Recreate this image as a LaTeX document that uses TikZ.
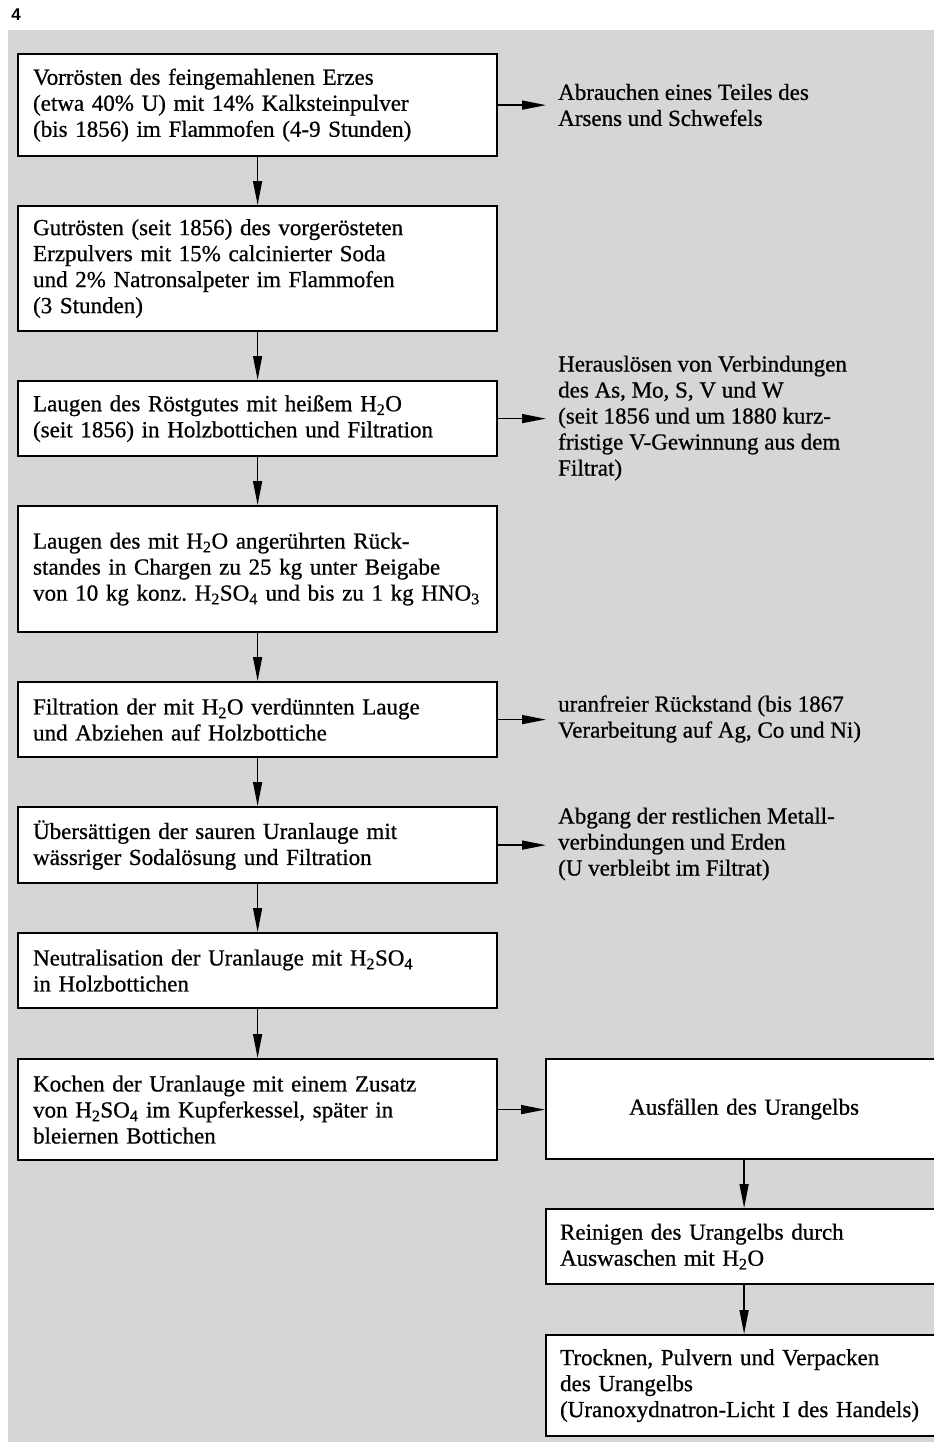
\documentclass[tikz,border=0pt]{standalone}
\usepackage{fontspec}
\setmainfont{Liberation Serif}[FakeBold=0.7]
\setsansfont{Liberation Sans}
\usetikzlibrary{arrows.meta}
\definecolor{bggray}{RGB}{214,214,214}
\frenchspacing
\begin{document}
\begin{tikzpicture}[x=1pt,y=-1pt,
  every node/.style={font=\fontsize{23}{26}\selectfont},
  box/.style={draw=black,line width=2.2pt,fill=white,minimum width=479pt,inner xsep=15pt,text width=449pt,align=left,anchor=north west,inner ysep=0pt},
  rbox/.style={draw=black,line width=2.2pt,fill=white,minimum width=396pt,inner xsep=14pt,text width=368pt,align=left,anchor=north west,inner ysep=0pt},
  side/.style={inner xsep=12pt,inner ysep=0pt,anchor=west,align=left},
  arr/.style={line width=1.5pt,-{Triangle[length=24pt,width=9pt]}}]
\useasboundingbox (0,0) rectangle (934,1444);
\clip (0,0) rectangle (934,1444);
\fill[bggray] (8,30) rectangle (940,1442);
\node[font=\sffamily\bfseries\fontsize{17}{20}\selectfont,anchor=center] (num) at (16,15) {4};
% left column
\node[box,minimum height=102pt] (b1) at (17,53) {Vorrösten des feingemahlenen Erzes\\(etwa 40\% U) mit 14\% Kalksteinpulver\\(bis 1856) im Flammofen (4-9 Stunden)};
\node[box,minimum height=125pt] (b2) at (17,205) {Gutrösten (seit 1856) des vorgerösteten\\Erzpulvers mit 15\% calcinierter Soda\\und 2\% Natronsalpeter im Flammofen\\(3 Stunden)};
\node[box,minimum height=75pt] (b3) at (17,380) {Laugen des Röstgutes mit heißem H\textsubscript{2}O\\(seit 1856) in Holzbottichen und Filtration};
\node[box,minimum height=126pt] (b4) at (17,505) {Laugen des mit H\textsubscript{2}O angerührten Rück-\\standes in Chargen zu 25 kg unter Beigabe\\\mbox{von 10 kg konz. H\textsubscript{2}SO\textsubscript{4} und bis zu 1 kg HNO\textsubscript{3}}};
\node[box,minimum height=75pt] (b5) at (17,681) {Filtration der mit H\textsubscript{2}O verdünnten Lauge\\und Abziehen auf Holzbottiche};
\node[box,minimum height=76pt] (b6) at (17,806) {Übersättigen der sauren Uranlauge mit\\wässriger Sodalösung und Filtration};
\node[box,minimum height=75pt] (b7) at (17,932) {Neutralisation der Uranlauge mit H\textsubscript{2}SO\textsubscript{4}\\in Holzbottichen};
\node[box,minimum height=101pt] (b8) at (17,1058) {Kochen der Uranlauge mit einem Zusatz\\von H\textsubscript{2}SO\textsubscript{4} im Kupferkessel, später in\\bleiernen Bottichen};
% right column boxes
\node[rbox,minimum height=100pt,align=center] (b9) at (545,1058) {Ausfällen des Urangelbs};
\node[rbox,minimum height=75pt] (b10) at (545,1208) {Reinigen des Urangelbs durch\\Auswaschen mit H\textsubscript{2}O};
\node[rbox,minimum height=101pt] (b11) at (545,1334) {Trocknen, Pulvern und Verpacken\\des Urangelbs\\(Uranoxydnatron-Licht I des Handels)};
% side texts
\node[side] (t1) at (546,105) {Abrauchen eines Teiles des\\Arsens und Schwefels};
\node[side] (t3) at (546,418) {Herauslösen von Verbindungen\\des As, Mo, S, V und W\\(seit 1856 und um 1880 kurz-\\fristige V-Gewinnung aus dem\\Filtrat)};
\node[side] (t5) at (546,719) {uranfreier Rückstand (bis 1867\\Verarbeitung auf Ag, Co und Ni)};
\node[side] (t6) at (546,844) {Abgang der restlichen Metall-\\verbindungen und Erden\\(U verbleibt im Filtrat)};
% arrows down
\draw[arr] (b1.south) -- (b2.north);
\draw[arr] (b2.south) -- (b3.north);
\draw[arr] (b3.south) -- (b4.north);
\draw[arr] (b4.south) -- (b5.north);
\draw[arr] (b5.south) -- (b6.north);
\draw[arr] (b6.south) -- (b7.north);
\draw[arr] (b7.south) -- (b8.north);
\draw[arr] (b9.south) -- (b10.north);
\draw[arr] (b10.south) -- (b11.north);
% arrows right
\draw[arr] (b1.east) -- (b1.east -| t1.west);
\draw[arr] (b3.east) -- (b3.east -| t3.west);
\draw[arr] (b5.east) -- (b5.east -| t5.west);
\draw[arr] (b6.east) -- (b6.east -| t6.west);
\draw[arr] (b8.east) -- (b8.east -| b9.west);
\end{tikzpicture}
\end{document}
